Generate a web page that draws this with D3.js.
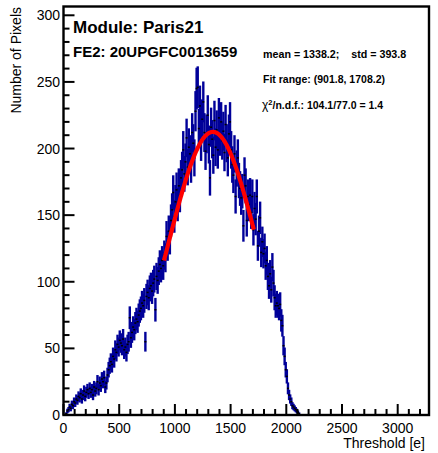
<!DOCTYPE html>
<html>
<head>
<meta charset="utf-8">
<script src="https://cdn.jsdelivr.net/npm/d3@7"></script>
<style>
  html, body { margin: 0; padding: 0; background: #fff; }
  text { font-family: "Liberation Sans", Arial, Helvetica, sans-serif; }
</style>
</head>
<body>
<svg id="chart" width="438" height="453"></svg>
<script>
// ---------------- data ----------------
const binLow = 20;        // lower edge of first bin [e]
const binWidth = 10;      // bin width [e]
const counts = [
  1, 3, 4, 6, 5, 8, 7, 10, 9, 12,
  11, 14, 13, 16, 12, 15, 18, 14, 17, 19,
  16, 20, 17, 19, 15, 21, 18, 20, 25, 19,
  24, 22, 27, 25, 28, 21, 24, 30, 34, 37,
  40, 38, 44, 42, 49, 47, 53, 51, 56, 54,
  52, 57, 49, 51, 47, 53, 55, 73, 58, 62,
  66, 64, 69, 72, 70, 75, 78, 80, 84, 82,
  86, 55, 89, 92, 88, 95, 97, 93, 99, 102,
  79, 104, 101, 108, 113, 110, 116, 112, 120, 118,
  134, 127, 138, 132, 146, 154, 167, 149, 160, 169,
  158, 172, 165, 178, 184, 199, 181, 190, 208, 186,
  201, 196, 188, 212, 204, 193, 228, 245, 246, 215,
  232, 205, 222, 235, 212, 198, 211, 225, 203, 178,
  216, 207, 195, 221, 201, 214, 199, 223, 209, 220,
  206, 213, 197, 218, 204, 193, 211, 220, 199, 188,
  180, 196, 164, 185, 193, 176, 170, 163, 168, 142,
  180, 172, 146, 164, 158, 165, 152, 164, 139, 155,
  147, 164, 127, 138, 148, 122, 130, 121, 125, 112,
  116, 104, 97, 106, 94, 111, 99, 88, 82, 84,
  82, 80, 83, 71, 67, 52, 44, 34, 29, 20,
  15, 12, 10, 7, 6, 5, 4, 3, 2, 1
];
const fitParams = [212.5, 1341.0, 399.0];   // constant, mean, sigma of the Gaussian fit
const fitRange = [901.8, 1708.2];
const xTicks = [0, 500, 1000, 1500, 2000, 2500, 3000];
const yTicks = [0, 50, 100, 150, 200, 250, 300];
const titleText = "Module: Paris21";
const subTitleText = "FE2: 20UPGFC0013659";
const statsText = ["mean = 1338.2;    std = 393.8", "Fit range: (901.8, 1708.2)"];
const chiText = ["χ", "2", "/n.d.f.: 104.1/77.0 = 1.4"];
const xTitle = "Threshold [e]";
const yTitle = "Number of Pixels";

// ---------------- layout ----------------
const svg = d3.select("#chart");
const L = 63.5, R = 429, T = 6.5, B = 415;
const x = d3.scaleLinear().domain([0, 3281]).range([L, R]);
const y = d3.scaleLinear().domain([0, 306.6]).range([B, T]);

svg.append("rect").attr("width", 438).attr("height", 453).attr("fill", "#fff");

// histogram points with error bars
const bins = counts.map((c, i) => ({ x: binLow + binWidth * (i + 0.5), v: c }));
const g = svg.append("g");
g.selectAll("line.err").data(bins.filter(d => d.v > 0)).join("line")
  .attr("class", "err")
  .attr("x1", d => x(d.x)).attr("x2", d => x(d.x))
  .attr("y1", d => y(Math.max(0, d.v - Math.sqrt(d.v))))
  .attr("y2", d => y(d.v + Math.sqrt(d.v)))
  .attr("stroke", "#000099").attr("stroke-width", 2.4);
g.selectAll("rect.mk").data(bins.filter(d => d.v > 0)).join("rect")
  .attr("class", "mk")
  .attr("x", d => x(d.x) - 1).attr("y", d => y(d.v) - 0.75)
  .attr("width", 2).attr("height", 1.5).attr("fill", "#000");

// fit curve
const gauss = t => fitParams[0] * Math.exp(-0.5 * Math.pow((t - fitParams[1]) / fitParams[2], 2));
const fitXs = d3.range(fitRange[0], fitRange[1], 5).concat([fitRange[1]]);
svg.append("path")
  .attr("d", d3.line().x(t => x(t)).y(t => y(gauss(t)))(fitXs))
  .attr("fill", "none").attr("stroke", "#ff0000").attr("stroke-width", 4.2)
  .attr("stroke-linejoin", "round");

// frame
svg.append("rect").attr("x", L).attr("y", T).attr("width", R - L).attr("height", B - T)
  .attr("fill", "none").attr("stroke", "#000").attr("stroke-width", 2.4);

// y axis ticks (inward)
const yMinor = d3.range(0, 307, 10);
svg.append("g").selectAll("line").data(yMinor).join("line")
  .attr("x1", L).attr("x2", d => L + (d % 50 === 0 ? 11 : 6))
  .attr("y1", d => y(d)).attr("y2", d => y(d))
  .attr("stroke", "#000").attr("stroke-width", 2);
svg.append("g").selectAll("text").data(yTicks).join("text")
  .attr("x", L - 3.5).attr("y", d => y(d) + 5)
  .attr("text-anchor", "end").attr("font-size", 14).attr("fill", "#000")
  .text(d => d);

// x axis ticks (inward)
const xMinor = d3.range(0, 3281, 100);
svg.append("g").selectAll("line").data(xMinor).join("line")
  .attr("x1", d => x(d)).attr("x2", d => x(d))
  .attr("y1", B).attr("y2", d => B - (d % 500 === 0 ? 11 : 6))
  .attr("stroke", "#000").attr("stroke-width", 2);
svg.append("g").selectAll("text").data(xTicks).join("text")
  .attr("x", d => x(d)).attr("y", 433)
  .attr("text-anchor", "middle").attr("font-size", 14).attr("fill", "#000")
  .text(d => d);

// axis titles
svg.append("text").attr("x", 425).attr("y", 447.5).attr("text-anchor", "end")
  .attr("font-size", 14).text(xTitle);
svg.append("text").attr("transform", "translate(21,7) rotate(-90)")
  .attr("text-anchor", "end").attr("font-size", 14).text(yTitle);

// labels
svg.append("text").attr("x", 73).attr("y", 33).attr("font-size", 17)
  .attr("font-weight", "bold").text(titleText);
svg.append("text").attr("x", 73).attr("y", 57).attr("font-size", 15)
  .attr("font-weight", "bold").text(subTitleText);
svg.append("text").attr("x", 263).attr("y", 57.5).attr("font-size", 10.7)
  .attr("font-weight", "bold").style("white-space", "pre").text(statsText[0]);
svg.append("text").attr("x", 263).attr("y", 83).attr("font-size", 10.5)
  .attr("font-weight", "bold").text(statsText[1]);
const chi = svg.append("text").attr("x", 262).attr("y", 109).attr("font-size", 10.5)
  .attr("font-weight", "bold");
chi.append("tspan").attr("font-weight", "normal").attr("font-size", 12).text(chiText[0]);
chi.append("tspan").attr("font-size", 7.5).attr("dy", -4).text(chiText[1]);
chi.append("tspan").attr("dy", 4).text(chiText[2]);
</script>
</body>
</html>
